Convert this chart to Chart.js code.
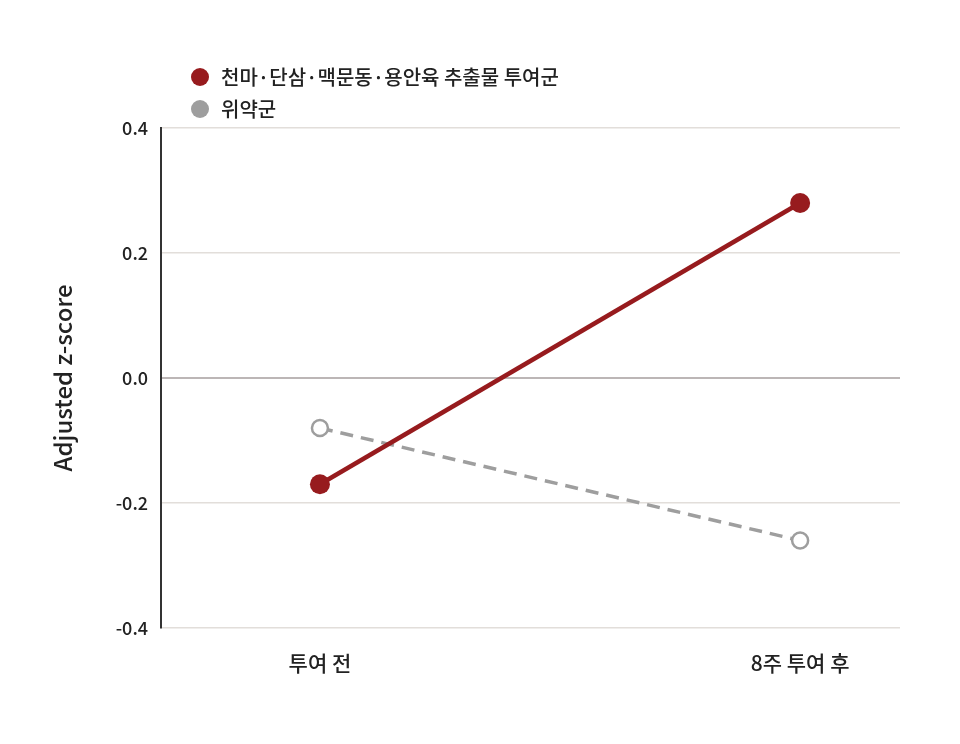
<!DOCTYPE html>
<html>
<head>
<meta charset="utf-8">
<script src="https://cdn.jsdelivr.net/npm/chart.js@4.4.1/dist/chart.umd.min.js"></script>
<style>
  body { margin: 0; background: #fff; }
  #wrap { position: relative; width: 960px; height: 744px; }
  #legend { position: absolute; left: 191px; top: 61px; font-family: 'Noto Sans CJK KR', sans-serif; font-weight: 500; font-size: 20px; color: #222; }
  #legend div { height: 32px; line-height: 30px; display: flex; align-items: center; }
  #legend span.dot { display: inline-block; width: 18px; height: 18px; border-radius: 50%; margin-right: 12px; }
</style>
</head>
<body>
<div id="wrap">
  <canvas id="zscore" width="960" height="744"></canvas>
  <div id="legend"></div>
</div>
<script>
var categories = ["투여 전", "8주 투여 후"];
var seriesNames = ["천마·단삼·맥문동·용안육 추출물 투여군", "위약군"];
var treated = [-0.17, 0.28];
var placebo = [-0.08, -0.26];
var yTicks = [-0.4, -0.2, 0.0, 0.2, 0.4];

var red = "#971b1e";
var gray = "#9e9e9e";
var font = "'Noto Sans CJK KR', sans-serif";

function toPoints(arr) {
  return arr.map(function (v, i) { return { x: i, y: v }; });
}

// simple html legend, two rows
var legendColors = [red, gray];
var legend = document.getElementById("legend");
seriesNames.forEach(function (name, i) {
  var row = document.createElement("div");
  row.innerHTML = '<span class="dot" style="background:' + legendColors[i] + '"></span>' + name;
  legend.appendChild(row);
});

var ctx = document.getElementById("zscore").getContext("2d");
var myChart = new Chart(ctx, {
  type: "line",
  data: {
    datasets: [{
      label: seriesNames[0],
      data: toPoints(treated),
      borderColor: red,
      backgroundColor: red,
      borderWidth: 4.5,
      pointRadius: 10,
      pointBackgroundColor: red,
      pointBorderColor: red,
      pointBorderWidth: 0
    }, {
      label: seriesNames[1],
      data: toPoints(placebo),
      borderColor: gray,
      backgroundColor: "#fff",
      borderWidth: 3.5,
      borderDash: [13, 8],
      pointRadius: 8,
      pointBackgroundColor: "#fff",
      pointBorderColor: gray,
      pointBorderWidth: 2.5
    }]
  },
  options: {
    responsive: false,
    animation: false,
    layout: { padding: { top: 128, right: 60, left: 0, bottom: 0 } },
    plugins: {
      legend: { display: false },
      tooltip: { enabled: false }
    },
    scales: {
      x: {
        type: "linear",
        min: -0.331,
        max: 1.208,
        afterBuildTicks: function (s) { s.ticks = categories.map(function (c, i) { return { value: i }; }); },
        afterFit: function (s) { s.height = 116; },
        grid: { display: false },
        border: { display: false },
        ticks: {
          padding: 14,
          color: "#222",
          font: { family: font, size: 21, weight: 500 },
          callback: function (v) { return categories[v] || ""; }
        }
      },
      y: {
        min: yTicks[0],
        max: yTicks[yTicks.length - 1],
        afterBuildTicks: function (s) { s.ticks = yTicks.map(function (v) { return { value: v }; }); },
        afterFit: function (s) { s.width = 161; },
        border: { display: true, color: "#333", width: 2 },
        grid: {
          drawTicks: false,
          color: function (c) { return Math.abs(c.tick.value) < 1e-9 ? "#bcb6b6" : "#e2deda"; },
          lineWidth: function (c) { return Math.abs(c.tick.value) < 1e-9 ? 2 : 1.5; }
        },
        ticks: {
          padding: 13,
          color: "#222",
          font: { family: font, size: 18, weight: 500 },
          callback: function (v) { return (Math.abs(v) < 1e-9 ? 0 : v).toFixed(1); }
        },
        title: {
          display: true,
          text: "Adjusted z-score",
          color: "#222",
          font: { family: font, size: 24, weight: 500 },
          padding: { top: 48, bottom: 0 }
        }
      }
    }
  }
});
</script>
</body>
</html>
